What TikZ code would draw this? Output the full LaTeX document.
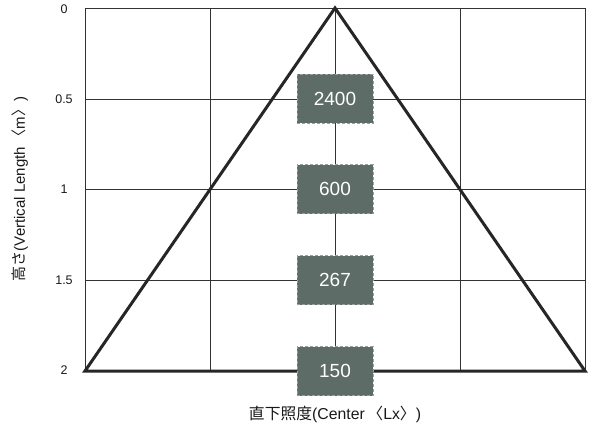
\documentclass[tikz,border=0pt]{standalone}
\usepackage{fontspec}
\setmainfont{Liberation Sans}
\newfontfamily\cjk{Noto Sans CJK JP}
\begin{document}
\begin{tikzpicture}[x=1pt,y=-1pt,
  gridline/.style={draw=black!80,line width=0.9pt},
  tri/.style={draw=black!85,line width=3pt,line join=miter},
  valbox/.style={fill={rgb,255:red,94;green,108;blue,103},draw={rgb,255:red,150;green,160;blue,156},densely dashed,line width=0.6pt,minimum width=76pt,minimum height=49pt,inner sep=0pt,text=white,font=\fontsize{19}{21}\selectfont},
  ticklab/.style={font=\fontsize{12.5}{14}\selectfont,text=black!90},
  axlab/.style={font=\fontsize{15}{18}\selectfont,text=black!90}]
\useasboundingbox (0,0) rectangle (589,432);
% grid
\foreach \x in {85,210,335,460,585} \draw[gridline] (\x,8) -- (\x,371);
\foreach \y in {8,99,189,280} \draw[gridline] (85,\y) -- (585,\y);
% triangle
\coordinate (apex) at (335,8);
\coordinate (bl) at (85,371);
\coordinate (br) at (585,371);
\draw[tri] (bl) -- (apex) -- (br) -- cycle;
% value boxes
\node[valbox] (v1) at (335,98.5) {2400};
\node[valbox] (v2) at (335,189) {600};
\node[valbox] (v3) at (335,280) {267};
\node[valbox] (v4) at (335,371) {150};
% tick labels
\node[ticklab] (t0) at (64,9) {0};
\node[ticklab] (t1) at (64,99) {0.5};
\node[ticklab] (t2) at (64,189) {1};
\node[ticklab] (t3) at (64,280) {1.5};
\node[ticklab] (t4) at (64,370) {2};
% axis labels
\node[axlab,rotate=90] (ylab) at (20,189) {{\cjk 高さ}({Vertical Length}\,{\cjk 〈}m{\cjk 〉})};
\node[axlab,font=\fontsize{15.8}{18}\selectfont] (xlab) at (335,414) {{\cjk 直下照度}(Center\,{\cjk 〈}Lx{\cjk 〉})};
\end{tikzpicture}
\end{document}
